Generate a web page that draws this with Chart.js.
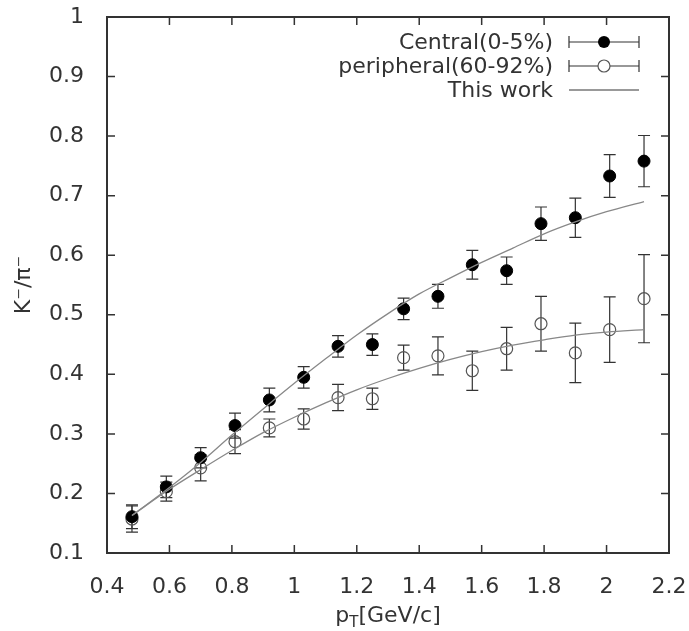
<!DOCTYPE html>
<html>
<head>
<meta charset="utf-8">
<title>K-/pi- ratio vs pT</title>
<script src="https://cdn.jsdelivr.net/npm/chart.js@4/dist/chart.umd.min.js"></script>
<style>
  html, body { margin: 0; padding: 0; background: #fff; }
  canvas { display: block; }
</style>
</head>
<body>
<canvas id="c" width="689" height="631"></canvas>
<script>
// Transverse momentum bins (GeV/c)
const ptBins = [0.48, 0.59, 0.70, 0.81, 0.92, 1.03, 1.14, 1.25, 1.35, 1.46, 1.57, 1.68, 1.79, 1.90, 2.01, 2.12];

// Central (0-5%) K-/pi- ratio and errors
const centralRatio = [0.161, 0.211, 0.260, 0.314, 0.357, 0.395, 0.447, 0.450, 0.510, 0.531, 0.584, 0.574, 0.653, 0.663, 0.733, 0.758];
const centralErr   = [0.020, 0.018, 0.017, 0.021, 0.020, 0.018, 0.018, 0.018, 0.018, 0.020, 0.024, 0.023, 0.028, 0.033, 0.036, 0.043];

// Peripheral (60-92%) K-/pi- ratio and errors
const peripheralRatio = [0.157, 0.203, 0.243, 0.287, 0.310, 0.325, 0.361, 0.359, 0.428, 0.431, 0.406, 0.443, 0.485, 0.436, 0.475, 0.527];
const peripheralErr   = [0.022, 0.016, 0.022, 0.020, 0.015, 0.017, 0.022, 0.018, 0.021, 0.032, 0.033, 0.036, 0.046, 0.050, 0.055, 0.074];

// Model curves ("This work")
const modelPt         = [0.48, 0.60, 0.70, 0.80, 0.90, 1.00, 1.10, 1.20, 1.30, 1.40, 1.50, 1.60, 1.70, 1.80, 1.90, 2.00, 2.12];
const modelCentral    = [0.163, 0.210, 0.252, 0.298, 0.342, 0.385, 0.426, 0.466, 0.502, 0.535, 0.562, 0.588, 0.612, 0.636, 0.656, 0.673, 0.690];
const modelPeripheral = [0.163, 0.207, 0.240, 0.272, 0.302, 0.328, 0.352, 0.374, 0.393, 0.410, 0.425, 0.438, 0.449, 0.458, 0.466, 0.471, 0.475];

// Axis ticks
const xTicks = [0.4, 0.6, 0.8, 1.0, 1.2, 1.4, 1.6, 1.8, 2.0, 2.2];
const yTicks = [0.1, 0.2, 0.3, 0.4, 0.5, 0.6, 0.7, 0.8, 0.9, 1.0];

const legendLabels = ['Central(0-5%)', 'peripheral(60-92%)', 'This work'];

const FONT = 'DejaVu Sans';
const TEXT = '#333';
const AXIS = '#333';
const BAR = '#333';
const CURVE = '#888';

const toXY = (xs, ys) => xs.map((x, i) => ({ x: x, y: ys[i] }));
const fmt = v => String(+Number(v).toFixed(2));
const noPad = s => { s.paddingLeft = 0; s.paddingRight = 0; s.paddingTop = 0; s.paddingBottom = 0; };

// Error bars, frame, inner ticks, axis titles and legend
const decor = {
  id: 'decor',
  beforeDatasetsDraw(chart) {
    const ctx = chart.ctx, xs = chart.scales.x, ys = chart.scales.y;
    ctx.save();
    ctx.strokeStyle = BAR;
    ctx.lineWidth = 1.2;
    const bars = [[centralRatio, centralErr], [peripheralRatio, peripheralErr]];
    bars.forEach(([vals, errs]) => {
      ptBins.forEach((p, i) => {
        const px = xs.getPixelForValue(p);
        const top = ys.getPixelForValue(vals[i] + errs[i]);
        const bot = ys.getPixelForValue(vals[i] - errs[i]);
        ctx.beginPath();
        ctx.moveTo(px, top); ctx.lineTo(px, bot);
        ctx.moveTo(px - 6, top); ctx.lineTo(px + 6, top);
        ctx.moveTo(px - 6, bot); ctx.lineTo(px + 6, bot);
        ctx.stroke();
      });
    });
    ctx.restore();
  },
  afterDraw(chart) {
    const ctx = chart.ctx, a = chart.chartArea, xs = chart.scales.x, ys = chart.scales.y;
    ctx.save();
    // frame
    ctx.strokeStyle = AXIS;
    ctx.lineWidth = 2;
    ctx.strokeRect(a.left, a.top, a.right - a.left, a.bottom - a.top);
    // inward tick marks on all four sides
    ctx.lineWidth = 1.5;
    const tl = 8;
    ctx.beginPath();
    xTicks.forEach(v => {
      const px = xs.getPixelForValue(v);
      ctx.moveTo(px, a.bottom); ctx.lineTo(px, a.bottom - tl);
      ctx.moveTo(px, a.top); ctx.lineTo(px, a.top + tl);
    });
    yTicks.forEach(v => {
      const py = ys.getPixelForValue(v);
      ctx.moveTo(a.left, py); ctx.lineTo(a.left + tl, py);
      ctx.moveTo(a.right, py); ctx.lineTo(a.right - tl, py);
    });
    ctx.stroke();

    // axis titles
    ctx.fillStyle = TEXT;
    ctx.font = '22px "' + FONT + '"';
    ctx.textBaseline = 'alphabetic';
    const cx = (a.left + a.right) / 2;
    const base = 622;
    const wP = ctx.measureText('p').width;
    ctx.font = '15px "' + FONT + '"';
    const wT = ctx.measureText('T').width;
    ctx.font = '22px "' + FONT + '"';
    const wRest = ctx.measureText('[GeV/c]').width;
    let x0 = cx - (wP + wT + wRest) / 2;
    ctx.textAlign = 'left';
    ctx.fillText('p', x0, base);
    ctx.font = '15px "' + FONT + '"';
    ctx.fillText('T', x0 + wP, base + 5);
    ctx.font = '22px "' + FONT + '"';
    ctx.fillText('[GeV/c]', x0 + wP + wT, base);

    ctx.save();
    ctx.translate(30, (a.top + a.bottom) / 2);
    ctx.rotate(-Math.PI / 2);
    ctx.textAlign = 'center';
    ctx.textBaseline = 'alphabetic';
    ctx.font = '22px "' + FONT + '"';
    ctx.fillText('K\u207B/\u03C0\u207B', 0, 0);
    ctx.restore();

    // legend
    const textRight = 553, l0 = 569, l1 = 639, mx = 604;
    const rows = [42, 66, 90];
    ctx.textAlign = 'right';
    ctx.textBaseline = 'middle';
    ctx.font = '22px "' + FONT + '"';
    legendLabels.forEach((t, i) => ctx.fillText(t, textRight, rows[i] + 1));
    [0, 1].forEach(i => {
      const y = rows[i];
      ctx.strokeStyle = BAR;
      ctx.lineWidth = 1.2;
      ctx.beginPath();
      ctx.moveTo(l0, y); ctx.lineTo(l1, y);
      ctx.moveTo(l0, y - 6); ctx.lineTo(l0, y + 6);
      ctx.moveTo(l1, y - 6); ctx.lineTo(l1, y + 6);
      ctx.stroke();
      ctx.beginPath();
      ctx.arc(mx, y, 6, 0, Math.PI * 2);
      if (i === 0) { ctx.fillStyle = '#000'; ctx.fill(); }
      else { ctx.fillStyle = '#fff'; ctx.fill(); ctx.strokeStyle = '#555'; ctx.stroke(); }
    });
    ctx.strokeStyle = '#999';
    ctx.lineWidth = 2;
    ctx.beginPath();
    ctx.moveTo(l0, rows[2]); ctx.lineTo(l1, rows[2]);
    ctx.stroke();
    ctx.restore();
  }
};

new Chart(document.getElementById('c'), {
  type: 'scatter',
  data: {
    datasets: [
      {
        label: 'This work (central)',
        data: toXY(modelPt, modelCentral),
        showLine: true, borderColor: CURVE, borderWidth: 1.3,
        pointRadius: 0, cubicInterpolationMode: 'monotone', fill: false
      },
      {
        label: 'This work (peripheral)',
        data: toXY(modelPt, modelPeripheral),
        showLine: true, borderColor: CURVE, borderWidth: 1.3,
        pointRadius: 0, cubicInterpolationMode: 'monotone', fill: false
      },
      {
        label: legendLabels[0],
        data: toXY(ptBins, centralRatio),
        pointStyle: 'circle', pointRadius: 6,
        backgroundColor: '#000', borderColor: '#000', borderWidth: 1
      },
      {
        label: legendLabels[1],
        data: toXY(ptBins, peripheralRatio),
        pointStyle: 'circle', pointRadius: 6,
        backgroundColor: 'rgba(0,0,0,0)', borderColor: '#555', borderWidth: 1.2
      }
    ]
  },
  options: {
    responsive: false,
    animation: false,
    devicePixelRatio: 1,
    layout: { padding: { top: 17, right: 20, left: 0, bottom: 0 } },
    plugins: { legend: { display: false }, tooltip: { enabled: false } },
    scales: {
      x: {
        type: 'linear', min: 0.4, max: 2.2,
        afterBuildTicks: s => { s.ticks = xTicks.map(v => ({ value: v })); },
        afterFit: s => { s.height = 78; noPad(s); },
        grid: { display: false },
        border: { display: false },
        ticks: { padding: 13, color: TEXT, font: { family: FONT, size: 22 }, callback: fmt, maxRotation: 0 }
      },
      y: {
        type: 'linear', min: 0.1, max: 1.0,
        afterBuildTicks: s => { s.ticks = yTicks.map(v => ({ value: v })); },
        afterFit: s => { s.width = 107; noPad(s); },
        grid: { display: false },
        border: { display: false },
        ticks: { padding: 15, color: TEXT, font: { family: FONT, size: 22 }, callback: fmt }
      }
    }
  },
  plugins: [decor]
});
</script>
</body>
</html>
